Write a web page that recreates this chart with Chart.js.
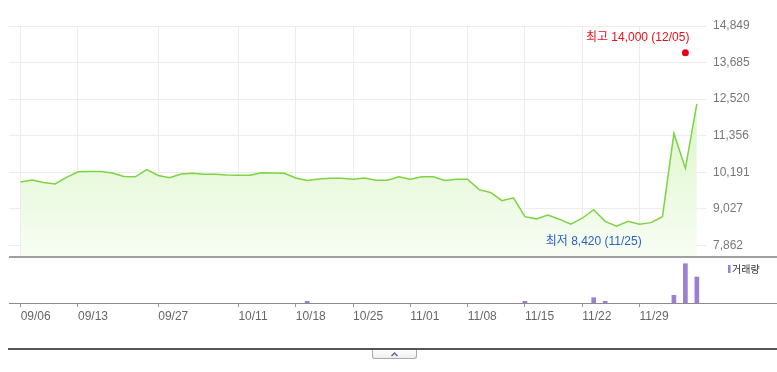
<!DOCTYPE html>
<html>
<head>
<meta charset="utf-8">
<script src="https://cdn.jsdelivr.net/npm/chart.js@4/dist/chart.umd.min.js"></script>
<style>
  html, body { margin: 0; padding: 0; background: #fff; }
  #wrap { position: relative; width: 777px; height: 372px; overflow: hidden; }
  #wrap canvas { position: absolute; left: 0; top: 0; }
  #rule { position: absolute; left: 8px; right: 0; top: 348px; height: 2px; background: #555; }
  #toggle { position: absolute; left: 372px; top: 350px; width: 43px; height: 8px; border: 1px solid #aaa; border-top: none; border-radius: 0 0 3px 3px; background: linear-gradient(#fff, #eee); }
  #toggle svg { display: block; }
</style>
</head>
<body>
<div id="wrap">
  <canvas id="price" width="777" height="372"></canvas>
  <canvas id="volume" width="777" height="372"></canvas>
  <div id="rule"></div>
  <div id="toggle"><svg width="43" height="8"><polyline points="18.5,6 21.5,3 24.5,6" fill="none" stroke="#5b6b90" stroke-width="1.5"/></svg></div>
</div>
<script>
// trading days shown on the chart
const dates = [
  '09/06','09/09','09/10','09/11','09/12','09/13','09/19','09/20','09/23','09/24',
  '09/25','09/26','09/27','09/30','10/02','10/04','10/07','10/08','10/10','10/11',
  '10/14','10/15','10/16','10/17','10/18','10/21','10/22','10/23','10/24','10/25',
  '10/28','10/29','10/30','10/31','11/01','11/04','11/05','11/06','11/07','11/08',
  '11/11','11/12','11/13','11/14','11/15','11/18','11/19','11/20','11/21','11/22',
  '11/25','11/26','11/27','11/28','11/29','12/02','12/03','12/04','12/05','12/06'
];
const closes = [
  9880, 9950, 9870, 9820, 10030, 10210, 10220, 10220, 10170, 10060,
  10050, 10280, 10090, 10020, 10140, 10160, 10130, 10130, 10110, 10100,
  10100, 10180, 10170, 10160, 10010, 9930, 9980, 10000, 10000, 9970,
  10010, 9940, 9940, 10050, 9970, 10050, 10050, 9930, 9970, 9970,
  9640, 9550, 9290, 9380, 8780, 8710, 8830, 8700, 8540, 8730,
  9000, 8630, 8480, 8630, 8540, 8590, 8780, 11430, 10320, 12370
];
// null = no visible bar that day
const volumes = [
  null, null, null, null, null, null, null, null, null, null,
  null, null, null, null, null, null, null, null, null, null,
  null, null, null, null, null, 17000, null, null, null, null,
  null, null, null, null, null, null, null, null, null, null,
  null, null, null, null, 17000, null, null, null, null, null,
  53000, 17000, null, null, null, null, null, 77000, 393000, 260000
];
const xLabels = ['09/06','09/13','09/27','10/11','10/18','10/25','11/01','11/08','11/15','11/22','11/29'];
const yTicks = [7862, 9027, 10191, 11356, 12520, 13685, 14849];
const highDate = '12/05', highValue = 14000;
const lowDate = '11/25', lowValue = 8420;

const FONT = "'Liberation Sans', 'Noto Sans CJK KR', sans-serif";
const fmt = v => v.toLocaleString('en-US');
const xMin = -1.02, xMax = 59.8;

const markLabels = {
  id: 'markLabels',
  afterDatasetsDraw(chart) {
    const c = chart.ctx, xs = chart.scales.x, ys = chart.scales.y;
    c.save();
    c.font = '12px ' + FONT;
    c.textBaseline = 'middle';
    let px = xs.getPixelForValue(dates.indexOf(highDate));
    let py = ys.getPixelForValue(highValue);
    c.fillStyle = '#e8101c';
    c.textAlign = 'right';
    c.fillText('최고 ' + fmt(highValue) + ' (' + highDate + ')', px + 4, py - 15);
    px = xs.getPixelForValue(dates.indexOf(lowDate));
    py = ys.getPixelForValue(lowValue);
    c.fillStyle = '#2a62c9';
    c.textAlign = 'center';
    c.fillText('최저 ' + fmt(lowValue) + ' (' + lowDate + ')', px, py + 14);
    c.restore();
  }
};

new Chart(document.getElementById('price'), {
  type: 'line',
  data: {
    datasets: [
      {
        data: closes.map((v, i) => ({ x: i, y: v })),
        borderColor: '#7dd343',
        borderWidth: 1.5,
        pointRadius: 0,
        tension: 0,
        fill: 'start',
        backgroundColor: ctx => {
          const area = ctx.chart.chartArea;
          if (!area) return '#eaf9df';
          const g = ctx.chart.ctx.createLinearGradient(0, area.top, 0, area.bottom);
          g.addColorStop(0, '#cdf2b3');
          g.addColorStop(1, '#f8fdf4');
          return g;
        }
      },
      {
        data: [{ x: dates.indexOf(highDate), y: highValue }],
        showLine: false, pointRadius: 3.5, pointBorderWidth: 0,
        pointBackgroundColor: '#e8001c'
      },
      {
        data: [{ x: dates.indexOf(lowDate), y: lowValue }],
        showLine: false, pointRadius: 3.5, pointBorderWidth: 0,
        pointBackgroundColor: '#1a5ad6'
      }
    ]
  },
  options: {
    responsive: false,
    animation: false,
    devicePixelRatio: 1,
    layout: { padding: { left: 9, top: 26, right: 0, bottom: 115 } },
    plugins: { legend: { display: false }, tooltip: { enabled: false } },
    scales: {
      x: {
        type: 'linear', min: xMin, max: xMax,
        afterBuildTicks: s => { s.ticks = xLabels.map(l => ({ value: dates.indexOf(l) })); },
        afterFit: s => { s.height = 0; },
        ticks: { display: false },
        grid: { color: '#ececec', drawTicks: false },
        border: { display: false }
      },
      y: {
        position: 'right', min: 7496, max: 14849,
        afterBuildTicks: s => { s.ticks = yTicks.map(v => ({ value: v })); },
        afterFit: s => { s.width = 71; },
        ticks: { padding: 7, color: '#777', font: { family: FONT, size: 12 }, callback: v => fmt(v) },
        grid: { color: '#ececec', drawTicks: false },
        border: { display: false }
      }
    }
  },
  plugins: [markLabels]
});

const paneLines = {
  id: 'paneLines',
  afterDraw(chart) {
    const c = chart.ctx, a = chart.chartArea;
    c.save();
    c.fillStyle = '#a0a0a0';
    c.fillRect(a.left, a.top - 1, chart.width - a.left, 2);
    c.fillStyle = '#8c8c8c';
    c.fillRect(a.left, a.bottom, chart.width - a.left, 1);
    // legend
    c.fillStyle = '#9b7fd0';
    c.fillRect(728, 265, 2.5, 8);
    c.fillStyle = '#333';
    c.font = '10px ' + FONT;
    c.textBaseline = 'middle';
    c.textAlign = 'left';
    c.fillText('거래량', 732, 270);
    c.restore();
  }
};

new Chart(document.getElementById('volume'), {
  type: 'bar',
  data: {
    datasets: [{
      data: volumes.map((v, i) => ({ x: i, y: v })),
      backgroundColor: '#9b7fd0',
      barThickness: 4
    }]
  },
  options: {
    responsive: false,
    animation: false,
    devicePixelRatio: 1,
    layout: { padding: { left: 9, top: 257, right: 71, bottom: 49 } },
    plugins: { legend: { display: false }, tooltip: { enabled: false } },
    scales: {
      x: {
        type: 'linear', min: xMin, max: xMax, offset: false,
        afterBuildTicks: s => { s.ticks = xLabels.map(l => ({ value: dates.indexOf(l) })); },
        afterFit: s => { s.height = 20; },
        ticks: {
          align: 'start', padding: 2, color: '#666', maxRotation: 0, autoSkip: false,
          font: { family: FONT, size: 12 },
          callback: v => dates[v]
        },
        grid: { drawOnChartArea: false, drawTicks: true, tickLength: 4, color: '#999', offset: false },
        border: { display: false }
      },
      y: { display: false, min: 0, max: 460000 }
    }
  },
  plugins: [paneLines]
});
</script>
</body>
</html>
